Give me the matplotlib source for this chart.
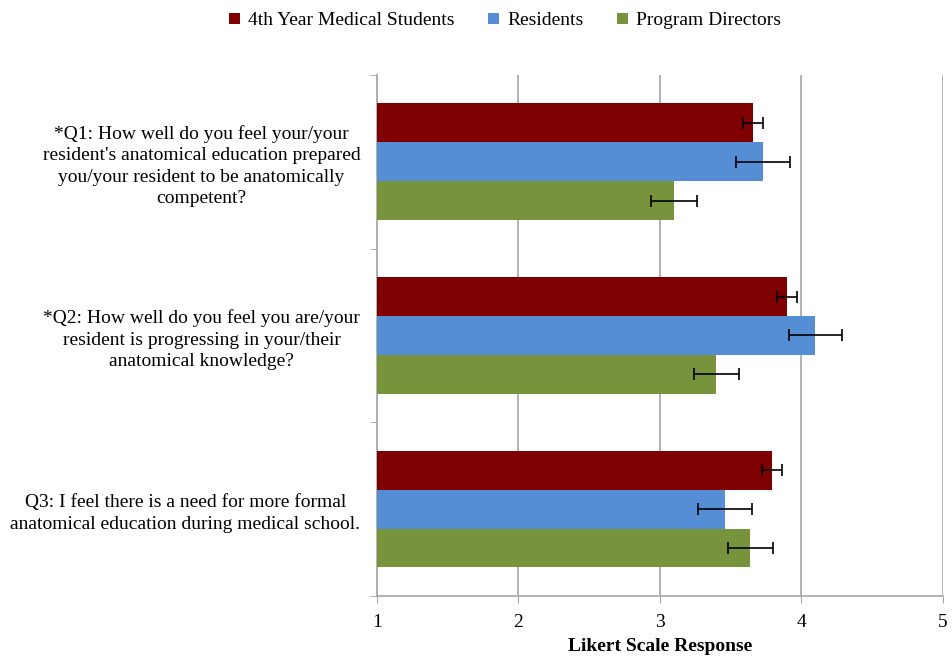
import matplotlib
matplotlib.use("Agg")
import matplotlib.pyplot as plt
import numpy as np

plt.rcParams['font.family'] = ['Liberation Serif', 'DejaVu Serif']

questions = [
    "*Q1: How well do you feel your/your\nresident's anatomical education prepared\nyou/your resident to be anatomically\ncompetent?",
    "*Q2: How well do you feel you are/your\nresident is progressing in your/their\nanatomical knowledge?",
    "Q3: I feel there is a need for more formal\nanatomical education during medical school.",
]
series_names = ["4th Year Medical Students", "Residents", "Program Directors"]
students = [3.66, 3.90, 3.79]
residents = [3.73, 4.10, 3.46]
directors = [3.10, 3.40, 3.64]
students_err = [0.07, 0.07, 0.07]
residents_err = [0.19, 0.19, 0.19]
directors_err = [0.16, 0.16, 0.16]
colors = ["#7f0000", "#558ed5", "#77933c"]
x_ticks = [1, 2, 3, 4, 5]

fig = plt.figure(figsize=(9.53, 6.56), dpi=100)
ax = fig.add_axes([0.3956, 0.0915, 0.5937, 0.7942])

n = len(questions)
ypos = np.arange(n)[::-1]  # Q1 at top
h = 0.224
vals = [students, residents, directors]
errs = [students_err, residents_err, directors_err]
offsets = [h, 0, -h]
for v, e, c, off, name in zip(vals, errs, colors, offsets, series_names):
    ax.barh(ypos + off, np.array(v) - 1, left=1, height=h, color=c, label=name,
            zorder=3,
            xerr=e, error_kw=dict(ecolor='black', elinewidth=1.2, capsize=4, capthick=1.2, zorder=4))

ax.set_xlim(1, 5)
ax.set_ylim(-0.5, n - 0.5)
ax.set_xticks(x_ticks)
ax.set_xticklabels([str(t) for t in x_ticks], fontsize=14)
ax.tick_params(axis='x', length=5, color='#a6a6a6', pad=8)
ax.xaxis.grid(True, color='#a6a6a6', linewidth=1.2, zorder=0)
ax.set_axisbelow(True)

ax.set_yticks(ypos)
ax.set_yticklabels(questions, fontsize=14, multialignment='center', linespacing=1.35)
ax.tick_params(axis='y', length=0, pad=12)
# category boundary ticks
ax.set_yticks(np.arange(-0.5, n, 1.0), minor=True)
ax.tick_params(axis='y', which='minor', length=5, color='#a6a6a6')

for s in ['top', 'right']:
    ax.spines[s].set_visible(False)
for s in ['left', 'bottom']:
    ax.spines[s].set_color('#a6a6a6')
    ax.spines[s].set_linewidth(1.2)

ax.set_xlabel("Likert Scale Response", fontsize=14, fontweight='bold', labelpad=5)

leg = fig.legend(loc='upper center', bbox_to_anchor=(0.53, 1.008), ncol=3, frameon=False,
                 fontsize=14, handlelength=0.55, handleheight=0.55, handletextpad=0.4,
                 columnspacing=1.75)

fig.savefig("out.png", dpi=100)
